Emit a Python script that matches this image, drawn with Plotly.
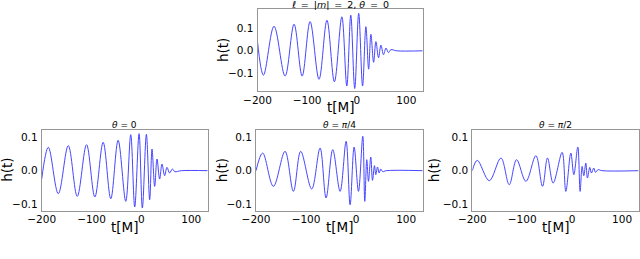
import plotly.graph_objects as go

# ---- data (extrema of each waveform) ----
t_top = [-200, -188, -166.7, -144.4, -126.3, -110, -94, -76, -60, -45, -30, -20, -12, -4, 4, 11.8,
         18.5, 24, 28.6, 34, 38.7, 44, 48.8, 54, 59, 64, 69, 80, 133]
h_top = [0.04, -0.106, 0.107, -0.11, 0.116, -0.11, 0.127, -0.124, 0.133, -0.135, 0.148, -0.153, 0.155,
         -0.164, 0.163, -0.153, 0.105, -0.08, 0.072, -0.05, 0.04, -0.03, 0.025, -0.017, 0.012, -0.008, 0.005, 0.0, 0.0]

t_th0 = [-200, -186.7, -166.7, -146.7, -128.7, -110, -93.4, -76.7, -61.4, -46.7, -31.4, -21.4, -13.4, -4.7,
         1.9, 10, 16.6, 21.3, 26.6, 31.3, 36.6, 41.3, 46.6, 51.3, 56.6, 62, 67, 80, 133]
h_th0 = [-0.025, 0.07, -0.069, 0.075, -0.077, 0.078, -0.079, 0.085, -0.084, 0.091, -0.092, 0.108, -0.109,
         0.111, -0.112, 0.109, -0.087, 0.065, -0.047, 0.035, -0.025, 0.02, -0.015, 0.01, -0.007, 0.005, -0.003, 0.0, 0.0]

t_th45 = [-200, -186.7, -165.3, -142, -125.3, -110.7, -88.7, -72, -60, -46.7, -32, -20, -12, -4, 4.7, 13.3,
          17.3, 21.3, 24.7, 29.3, 32.7, 36.7, 39.3, 42.7, 46, 49.3, 53, 60, 133]
h_th45 = [0.0, 0.053, -0.047, 0.058, -0.062, 0.058, -0.055, 0.068, -0.082, 0.063, -0.062, 0.088, -0.102,
          0.071, -0.062, 0.103, -0.092, 0.033, -0.032, 0.041, -0.029, 0.015, -0.012, 0.011, -0.007, 0.005, -0.003, 0.0, 0.0]

t_th90 = [-200, -190, -166, -142.6, -126, -111.3, -92.6, -72.6, -59.3, -49.3, -38, -20, -12.6, -2.6, 3.4,
          11.4, 16, 20, 23.4, 27.4, 30.7, 35.4, 38.7, 43.4, 46.7, 52, 60, 133]
h_th90 = [0.0, 0.031, -0.03, 0.038, -0.042, 0.033, -0.032, 0.045, -0.047, 0.038, -0.037, 0.055, -0.062,
          0.053, -0.012, 0.071, -0.062, 0.013, -0.015, 0.023, -0.022, 0.01, -0.007, 0.008, -0.005, 0.003, 0.0, 0.0]

TS = "\u2009"
titles = [f"<i>ℓ</i> {TS}={TS} |<i>m</i>| {TS}={TS} 2, <i>θ</i> {TS}={TS} 0",
          "<i>θ</i> = 0", "<i>θ</i> = <i>π</i>/4", "<i>θ</i> = <i>π</i>/2"]
x_title = "t[M]"
y_title = "h(t)"
x_ticks = [-200, -100, 0, 100]
y_ticks = [-0.1, 0.0, 0.1]

W, H = 640, 259
LINE = "rgb(70,70,255)"
FONT = "DejaVu Sans"

# panel boxes in pixels: (left, right, top, bottom)
boxes = [(257.5, 422.7, 9, 91), (41.7, 207.7, 130, 210.7), (256, 422.7, 130, 210.7), (472.3, 638.5, 130, 210.7)]
yranges = [[-0.175, 0.182], [-0.12, 0.122], [-0.12, 0.122], [-0.12, 0.122]]
series = [(t_top, h_top), (t_th0, h_th0), (t_th45, h_th45), (t_th90, h_th90)]
title_y = [4.5, 125, 125, 125]
title_size = [9.5, 9, 9, 9]
ylab_x = [223, 7.5, 222, 434]

fig = go.Figure()
annotations = []
for i, ((l, r, tp, bt), yr, (tx, hy), ttl) in enumerate(zip(boxes, yranges, series, titles)):
    n = "" if i == 0 else str(i + 1)
    xa, ya = "x" + n, "y" + n
    fig.add_trace(go.Scatter(x=tx, y=hy, mode="lines", xaxis=xa, yaxis=ya,
                             line=dict(color=LINE, width=1, shape="spline", smoothing=1.0),
                             showlegend=False, hoverinfo="skip"))
    axcommon = dict(showline=True, mirror=True, linecolor="rgb(150,150,150)", linewidth=1, automargin=False,
                    showgrid=False, zeroline=False, ticks="", tickfont=dict(family=FONT, size=10.5, color="black"))
    fig.layout["xaxis" + n] = dict(domain=[l / W, r / W], anchor=ya, range=[-200, 133],
                                   tickvals=x_ticks, ticklabelstandoff=-1, **axcommon)
    fig.layout["yaxis" + n] = dict(domain=[1 - bt / H, 1 - tp / H], anchor=xa, range=yr,
                                   tickvals=y_ticks, tickformat=".1f", ticklabelstandoff=1, **axcommon)
    cx = (l + r) / 2
    annotations.append(dict(text=ttl, x=cx / W, y=1 - title_y[i] / H, xref="paper", yref="paper",
                            xanchor="center", yanchor="middle", showarrow=False, borderpad=0,
                            font=dict(family=FONT, size=title_size[i], color="black")))
    annotations.append(dict(text=x_title, x=cx / W, y=1 - (bt + 16) / H, xref="paper", yref="paper",
                            xanchor="center", yanchor="middle", showarrow=False, borderpad=0,
                            font=dict(family=FONT, size=13.5, color="black")))
    annotations.append(dict(text=y_title, x=ylab_x[i] / W, y=1 - (tp + bt) / 2 / H, xref="paper", yref="paper",
                            xanchor="center", yanchor="middle", showarrow=False, borderpad=0, textangle=-90,
                            font=dict(family=FONT, size=13.5, color="black")))

fig.update_layout(width=W, height=H, margin=dict(l=0, r=0, t=0, b=0),
                  paper_bgcolor="white", plot_bgcolor="white", annotations=annotations)
fig.write_html("out.html", config={"displayModeBar": False},
               post_script="document.body.style.margin='0px';")
